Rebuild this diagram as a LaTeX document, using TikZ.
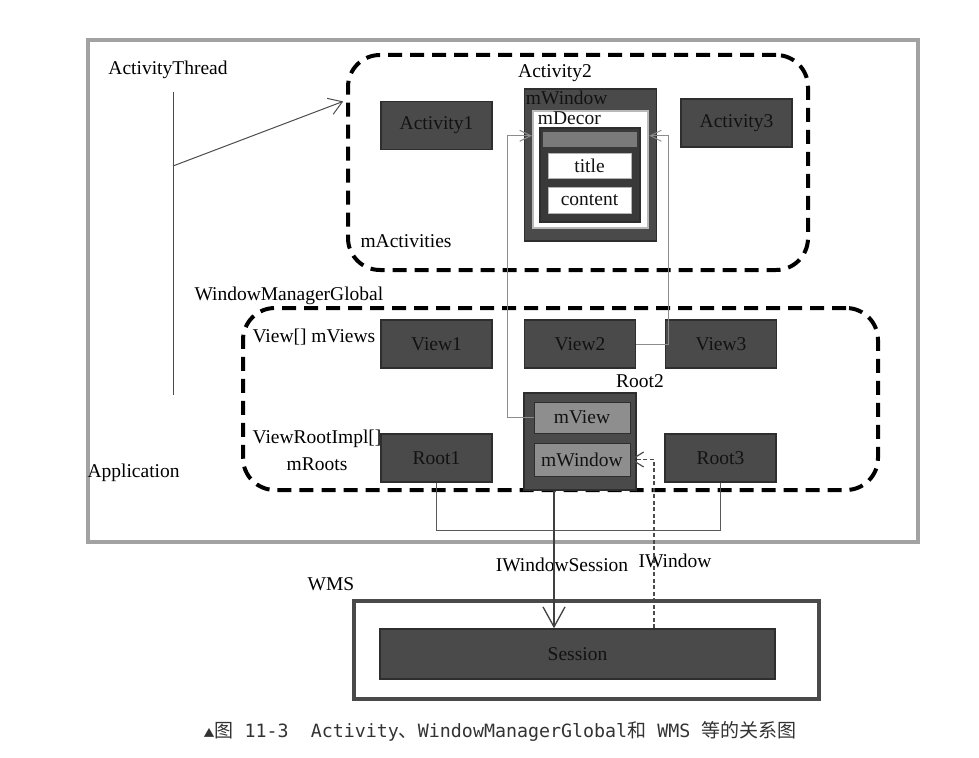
\documentclass[tikz,border=0pt]{standalone}
\usepackage{fontspec}
\setmainfont{Liberation Serif}
\newfontfamily\cjk{Noto Sans CJK SC}
\newfontfamily\capmono{DejaVu Sans Mono}
\usetikzlibrary{arrows.meta}
\definecolor{boxfill}{HTML}{4A4A4A}
\definecolor{boxline}{HTML}{2E2E2E}
\definecolor{boxtext}{HTML}{121212}
\definecolor{innerfill}{HTML}{8E8E8E}
\definecolor{appline}{HTML}{A2A2A2}
\definecolor{linkgray}{HTML}{8C8C8C}
\tikzset{
  objbox/.style={draw=boxline, fill=boxfill, line width=1.5pt, text=boxtext,
    minimum width=111pt, minimum height=48pt, inner sep=0pt},
  innerbox/.style={draw=boxline, fill=innerfill, line width=1pt, text=boxtext,
    minimum width=96pt, minimum height=31pt, inner sep=0pt},
  whitebox/.style={draw=gray!60, fill=white, line width=1pt, text=boxtext,
    minimum width=83pt, minimum height=25pt, inner sep=0pt},
  groupbox/.style={draw, line width=4pt, dash pattern=on 14pt off 8pt, rounded corners=32pt},
  reflink/.style={linkgray, line width=1pt, -{Straight Barb[length=11pt,width=11pt]}},
  rootlink/.style={black!65, line width=1pt},
}
\newcommand{\objbox}[4]{\node[objbox] (#1) at (#2,#3) {#4};}
\newcommand{\capzh}[1]{{\cjk\fontsize{19}{20}\selectfont #1}}

\begin{document}
\begin{tikzpicture}[x=1pt, y=-1pt, every node/.style={font=\fontsize{19.5}{22}\selectfont}]
    \useasboundingbox (0,0) rectangle (979,757);
    % frames
    \node[draw=appline, line width=4pt, minimum width=830pt, minimum height=502pt] (app) at (503,291) {};
    \node[groupbox, minimum width=460pt, minimum height=215pt] (acts) at (578,162.5) {};
    \node[groupbox, minimum width=635pt, minimum height=182pt] (wmg) at (560.5,399) {};
    \node[draw=boxfill, line width=4pt, minimum width=465pt, minimum height=98pt] (wms) at (586.5,650) {};

    % labels
    \node (thread) at (168,70) {ActivityThread};
    \node (act2l) at (555,73) {Activity2};
    \node[anchor=west] (actsl) at (357,241) {mActivities};
    \node[anchor=west] (wmgl) at (191,296) {WindowManagerGlobal};
    \node[anchor=west] (viewsl) at (249,337) {View[] mViews};
    \node[align=center, font=\fontsize{19.5}{27}\selectfont] (rootsl) at (317,450) {ViewRootImpl[]\\mRoots};
    \node (root2l) at (640,381) {Root2};
    \node[anchor=west] (appl) at (84,473) {Application};
    \node (sessl) at (562,565) {IWindowSession};
    \node (iwinl) at (675,561) {IWindow};
    \node (wmsl) at (331,584) {WMS};

    % boxes
    \objbox{act1}{436.5}{125.5}{Activity1}
    \objbox{act3}{736.5}{123}{Activity3}
    \objbox{view1}{436.5}{344}{View1}
    \objbox{view2}{580}{344}{View2}
    \objbox{view3}{721}{344}{View3}
    \objbox{root1}{436.5}{458}{Root1}
    \objbox{root3}{720.5}{458}{Root3}
    \node[objbox, minimum width=395pt, minimum height=50pt] (session) at (577.5,654) {Session};

    % Activity2 window
    \node[objbox, minimum width=132pt, minimum height=152pt] (awin) at (590.5,165) {};
    \node[anchor=north west, inner sep=0pt, text=boxtext] (awinl) at ([xshift=2pt,yshift=-3pt]awin.north west) {mWindow};
    \node[draw=gray!55, fill=white, line width=2.5pt, minimum width=115pt, minimum height=117pt, inner sep=0pt] (mdecor) at (590.5,169.5) {};
    \node[anchor=north west, inner sep=0pt, text=boxtext] (mdecorl) at ([xshift=6pt,yshift=-2pt]mdecor.north west) {mDecor};
    \node[draw=boxline, fill=gray!45!black, line width=1.5pt, minimum width=100pt, minimum height=94pt, inner sep=0pt] (dframe) at (590,175) {};
    \node[fill=black!52, minimum width=94pt, minimum height=15pt, inner sep=0pt] (dbar) at (590,139) {};
    \node[whitebox] (title) at (589.5,165.5) {title};
    \node[whitebox, minimum height=26pt] (content) at (589.5,200) {content};

    % Root2
    \node[objbox, minimum width=112pt, minimum height=97pt] (root2) at (580,441.5) {};
    \node[innerbox] (rview) at (582,417.5) {mView};
    \node[innerbox, minimum height=33pt] (rwin) at (582,459.5) {mWindow};

    % links
    \coordinate (ttop) at (173,92);
    \coordinate (tbot) at (173,395);
    \coordinate (tmid) at (173,166);
    \draw[black!70, line width=1pt] (ttop) -- (tbot);
    \draw[black!70, line width=1pt, shorten >=3pt, -{Straight Barb[length=13pt,width=17pt]}] (tmid) -- (acts.165);
    \draw[reflink] (rview.west) -- ++(-26,0) |- ([yshift=-26pt]mdecor.north west);
    \draw[reflink] (view2.east) -- ++(32,0) |- ([yshift=-26pt]mdecor.north east);
    \draw[rootlink] (root1.south) -- ++(0,48) -| (root3.south);
    \draw[black!75, line width=1.3pt, -{Straight Barb[length=20pt,width=22pt]}] ([xshift=-26pt]root2.south) -- ([xshift=-26pt]root2.south |- session.north);
    \draw[black!70, line width=1.2pt, dash pattern=on 4pt off 2.5pt, -{Straight Barb[length=12pt,width=15pt]}] ([xshift=76.5pt]session.north) |- (rwin.east);

    % caption
    \node[font=\capmono\fontsize{18.3}{20}\selectfont, text=black!80] (caption) at (500,731)
      {{\cjk\fontsize{11}{11}\selectfont ▲}\capzh{图} 11-3\ \ Activity\capzh{、}WindowManagerGlobal\capzh{和} WMS \capzh{等的关系图}};
\end{tikzpicture}
\end{document}
